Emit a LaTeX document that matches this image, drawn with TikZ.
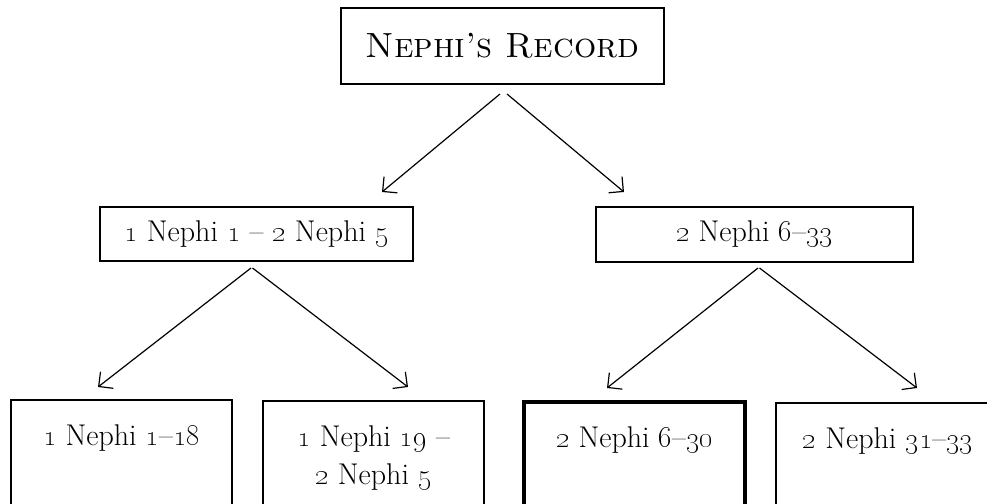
\documentclass[tikz,border=0pt]{standalone}
\usetikzlibrary{arrows.meta}
\tikzset{
  box/.style={draw, line width=1.2pt, inner sep=0pt, outer sep=0pt},
  heavy/.style={box, line width=4.5pt},
  lbl/.style={font=\fontsize{30}{38}\selectfont, align=center, inner sep=0pt},
  arr/.style={line width=1.2pt, -{Straight Barb[length=10.5pt,width=21pt]}}
}
\newcommand{\os}[1]{\oldstylenums{#1}}
\begin{document}
\begin{tikzpicture}[x=1pt, y=-1pt]
    \useasboundingbox (0,0) rectangle (987,503);
    \clip (0,0) rectangle (987,503);

    \node[box, minimum width=323pt, minimum height=76pt,
      font=\fontsize{35}{40}\selectfont] (rec) at (502.5,46) {\textsc{Nephi's Record}};
    \node[box, lbl, minimum width=313pt, minimum height=54pt] (early) at (256.5,234)
      {\os{1} Nephi \os{1} -- \os{2} Nephi \os{5}};
    \node[box, lbl, minimum width=317pt, minimum height=55pt] (late) at (754.5,234.5)
      {\os{2} Nephi \os{6}--\os{33}};

    \node[box, minimum width=221pt, minimum height=140pt] (b1) at (121.5,470) {};
    \node[box, minimum width=221pt, minimum height=140pt] (b2) at (373.5,471) {};
    \node[heavy, minimum width=221pt, minimum height=140pt] (b3) at (634.5,472) {};
    \node[box, minimum width=224pt, minimum height=140pt] (b4) at (888,473) {};

    \node[lbl, anchor=north] (t1) at ([yshift=-24pt]b1.north) {\os{1} Nephi \os{1}--\os{18}};
    \node[lbl, anchor=north] (t2) at ([yshift=-24pt]b2.north) {\os{1} Nephi \os{19} --\\ \os{2} Nephi \os{5}};
    \node[lbl, anchor=north] (t3) at ([yshift=-24pt]b3.north) {\os{2} Nephi \os{6}--\os{30}};
    \node[lbl, anchor=north] (t4) at ([yshift=-24pt]b4.north) {\os{2} Nephi \os{31}--\os{33}};

    \draw[arr] ([xshift=-2.5pt,yshift=-10pt]rec.south) -- ([xshift=125.5pt,yshift=15pt]early.north);
    \draw[arr] ([xshift=4.5pt,yshift=-10pt]rec.south) -- ([xshift=-130.5pt,yshift=15pt]late.north);
    \draw[arr] ([xshift=-5.5pt,yshift=-7pt]early.south) -- ([xshift=-23.5pt,yshift=13pt]b1.north);
    \draw[arr] ([xshift=-4pt,yshift=-7pt]early.south) -- ([xshift=34.5pt,yshift=14pt]b2.north);
    \draw[arr] ([xshift=3.5pt,yshift=-6pt]late.south) -- ([xshift=-27.5pt,yshift=14pt]b3.north);
    \draw[arr] ([xshift=5pt,yshift=-6pt]late.south) -- ([xshift=29pt,yshift=15pt]b4.north);
  \end{tikzpicture}
\end{document}
